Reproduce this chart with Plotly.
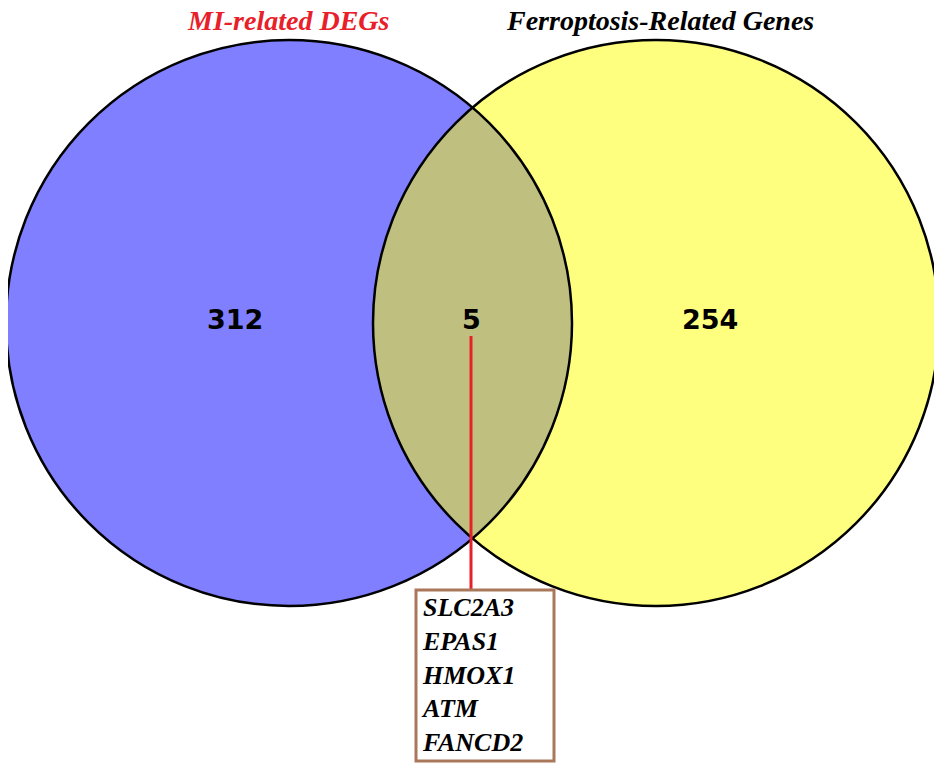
import plotly.graph_objects as go

set_names = ["MI-related DEGs", "Ferroptosis-Related Genes"]
set_colors = ["#e8202a", "#000000"]
counts = [312, 5, 254]
shared_genes = ["SLC2A3", "EPAS1", "HMOX1", "ATM", "FANCD2"]

W, H = 942, 768
left_c, right_c = (281, 315), (648, 315)
R = 283

fig = go.Figure()
for (cx, cy), col in [(left_c, "rgb(0,0,255)"), (right_c, "rgb(255,255,0)")]:
    fig.add_shape(type="circle", x0=cx - R, x1=cx + R, y0=cy - R, y1=cy + R,
                  fillcolor=col, opacity=0.5, line=dict(width=0), layer="below")
for (cx, cy) in [left_c, right_c]:
    fig.add_shape(type="circle", x0=cx - R, x1=cx + R, y0=cy - R, y1=cy + R,
                  line=dict(color="black", width=2.5))

# red leader line and gene box
fig.add_shape(type="line", x0=463, x1=463, y0=328, y1=582, line=dict(color="#e8202a", width=3))
fig.add_shape(type="rect", x0=408, x1=546, y0=582, y1=753, line=dict(color="#a9785a", width=3),
              fillcolor="white")

for x, n in zip([227, 463, 702], counts):
    fig.add_annotation(x=x, y=311, text=f"<b>{n}</b>", showarrow=False,
                       font=dict(family="DejaVu Sans", size=27, color="black"))

for x, name, col in zip([280, 652], set_names, set_colors):
    fig.add_annotation(x=x, y=12, text=f"<b><i>{name}</i></b>", showarrow=False,
                       font=dict(family="Liberation Serif", size=28, color=col))

fig.add_annotation(x=411, y=667, xanchor="left", yanchor="middle", align="left",
                   text="<br>".join(f"<b><i>{g}</i></b>" for g in shared_genes), showarrow=False,
                   font=dict(family="Liberation Serif", size=26, color="black"))

fig.update_xaxes(range=[0, W], visible=False)
fig.update_yaxes(range=[H, 0], visible=False)
fig.update_layout(width=W, height=H, margin=dict(l=0, r=0, t=0, b=0),
                  plot_bgcolor="white", paper_bgcolor="white", showlegend=False)
fig.write_html("out.html")
